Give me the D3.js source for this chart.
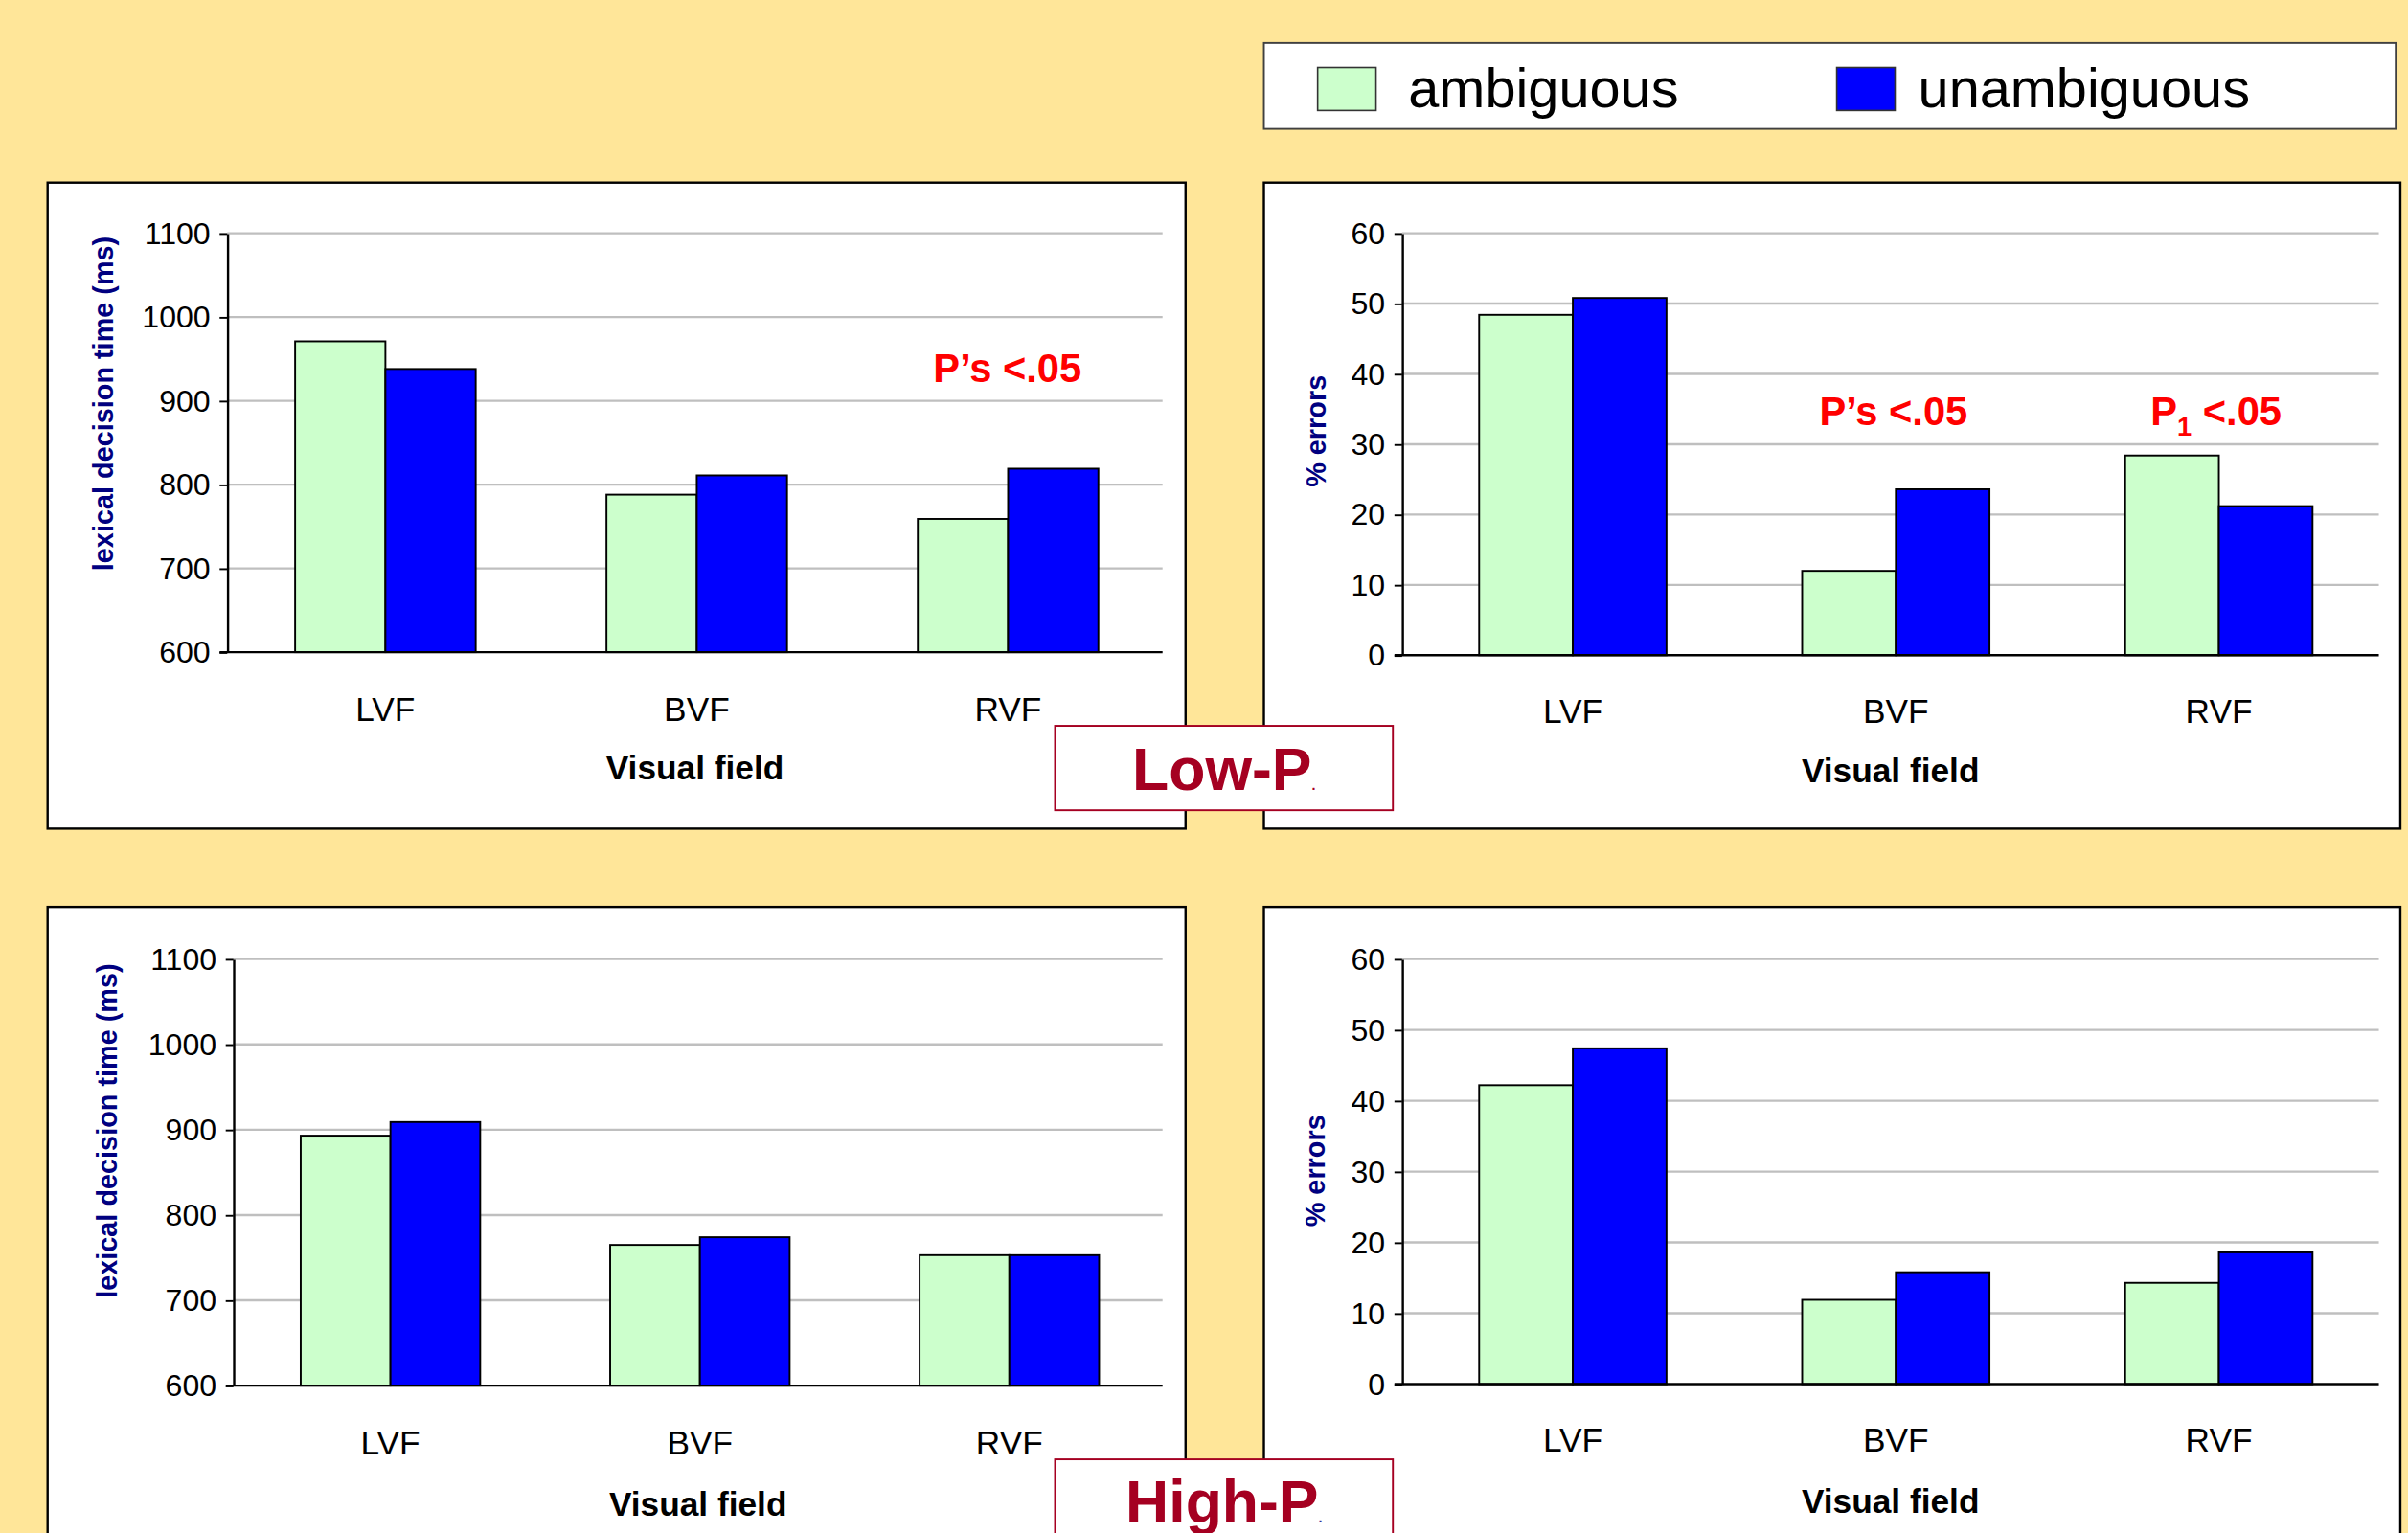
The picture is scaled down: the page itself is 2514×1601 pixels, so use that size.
<!DOCTYPE html>
<html>
<head>
<meta charset="utf-8">
<script src="https://cdn.jsdelivr.net/npm/d3@7"></script>
<style>
  html, body { margin: 0; padding: 0; background: #FFE699; overflow: hidden; }
  svg { display: block; font-family: 'Liberation Sans', Arial, sans-serif; }
</style>
</head>
<body>
<script>
const fields = ['LVF', 'BVF', 'RVF']
const seriesNames = ['ambiguous', 'unambiguous']
const seriesColors = ['#CCFFCC', '#0000FF']
const rtTicks = [600, 700, 800, 900, 1000, 1100]
const errTicks = [0, 10, 20, 30, 40, 50, 60]

const lowRtAmbiguous = [971, 788, 759]
const lowRtUnambiguous = [938, 811, 819]
const lowErrAmbiguous = [48.4, 12.0, 28.4]
const lowErrUnambiguous = [50.8, 23.6, 21.2]
const highRtAmbiguous = [893, 765, 753]
const highRtUnambiguous = [909, 774, 753]
const highErrAmbiguous = [42.2, 11.9, 14.3]
const highErrUnambiguous = [47.4, 15.8, 18.6]

const W = 1568
const H = 999

const svg = d3
  .select('body')
  .append('svg')
  .attr('width', 2514)
  .attr('height', 1601)
  .attr('viewBox', `0 0 ${W} ${H}`)
  .attr('preserveAspectRatio', 'none')

svg.append('rect').attr('width', W).attr('height', H).attr('fill', '#FFE699')

// legend
const legend = svg.append('g')
legend
  .append('rect')
  .attr('x', 823)
  .attr('y', 28)
  .attr('width', 737)
  .attr('height', 56)
  .attr('fill', '#fff')
  .attr('stroke', '#404040')
  .attr('stroke-width', 1.2)

const legendX = [858, 1196]
const legendTextX = [917, 1249]
seriesNames.forEach((name, i) => {
  legend
    .append('rect')
    .attr('x', legendX[i])
    .attr('y', 44)
    .attr('width', 38)
    .attr('height', 28)
    .attr('fill', seriesColors[i])
    .attr('stroke', '#333')
    .attr('stroke-width', 1)
  legend
    .append('text')
    .attr('x', legendTextX[i])
    .attr('y', 70)
    .attr('font-size', 36)
    .text(name)
})

const buildPanel = ({ box, axisX, gridRight, band, yRange, ticks, yTitle, titleX, titleY, catY, fieldY, amb, unamb, notes }) => {
  const g = svg.append('g')

  g.append('rect')
    .attr('x', box[0])
    .attr('y', box[1])
    .attr('width', box[2])
    .attr('height', box[3])
    .attr('fill', '#fff')
    .attr('stroke', '#000')
    .attr('stroke-width', 1.5)

  const y = d3.scaleLinear().domain([ticks[0], ticks[ticks.length - 1]]).range(yRange)
  const x = d3.scaleBand().domain(fields).range(band).paddingInner(0.42).paddingOuter(0.21)
  const xs = d3.scaleBand().domain(seriesNames).range([0, x.bandwidth()])

  // gridlines
  g.selectAll('line.grid')
    .data(ticks.slice(1))
    .join('line')
    .attr('class', 'grid')
    .attr('x1', axisX)
    .attr('x2', gridRight)
    .attr('y1', (d) => y(d))
    .attr('y2', (d) => y(d))
    .attr('stroke', '#BFBFBF')
    .attr('stroke-width', 1.5)

  // bars
  const rows = fields.map((f, i) => ({ field: f, values: [amb[i], unamb[i]] }))
  g.selectAll('g.cat')
    .data(rows)
    .join('g')
    .attr('class', 'cat')
    .attr('transform', (d) => `translate(${x(d.field)},0)`)
    .selectAll('rect')
    .data((d) => d.values.map((v, i) => ({ s: seriesNames[i], v, c: seriesColors[i] })))
    .join('rect')
    .attr('x', (d) => xs(d.s))
    .attr('y', (d) => y(d.v))
    .attr('width', xs.bandwidth())
    .attr('height', (d) => y(ticks[0]) - y(d.v))
    .attr('fill', (d) => d.c)
    .attr('stroke', '#000')
    .attr('stroke-width', 1.2)

  // y axis
  const yAxis = g
    .append('g')
    .attr('transform', `translate(${axisX},0)`)
    .call(
      d3.axisLeft(y).tickValues(ticks).tickFormat(d3.format('d')).tickSize(5).tickSizeOuter(0).tickPadding(6)
    )
  yAxis.select('.domain').attr('stroke', '#000').attr('stroke-width', 1.5)
  yAxis.selectAll('.tick line').attr('stroke', '#000').attr('stroke-width', 1.2)
  yAxis
    .selectAll('.tick text')
    .attr('font-size', 20)
    .attr('font-family', "'Liberation Sans', Arial, sans-serif")
    .attr('fill', '#000')

  // x baseline
  g.append('line')
    .attr('x1', axisX - 5)
    .attr('x2', gridRight)
    .attr('y1', y(ticks[0]))
    .attr('y2', y(ticks[0]))
    .attr('stroke', '#000')
    .attr('stroke-width', 1.5)

  g.selectAll('text.cat')
    .data(fields)
    .join('text')
    .attr('class', 'cat')
    .attr('x', (d) => x(d) + x.bandwidth() / 2)
    .attr('y', catY)
    .attr('text-anchor', 'middle')
    .attr('font-size', 22)
    .text((d) => d)

  g.append('text')
    .attr('x', (axisX + gridRight) / 2)
    .attr('y', fieldY)
    .attr('text-anchor', 'middle')
    .attr('font-size', 22)
    .attr('font-weight', 'bold')
    .text('Visual field')

  g.append('text')
    .attr('transform', `translate(${titleX},${titleY}) rotate(-90)`)
    .attr('dy', '0.35em')
    .attr('text-anchor', 'middle')
    .attr('font-size', 18)
    .attr('font-weight', 'bold')
    .attr('fill', '#000080')
    .text(yTitle)

  notes.forEach((n) => {
    const t = g
      .append('text')
      .attr('x', n.x)
      .attr('y', n.y)
      .attr('text-anchor', 'middle')
      .attr('font-size', 26)
      .attr('font-weight', 'bold')
      .attr('fill', '#FF0000')
    if (n.sub) {
      t.append('tspan').text('P')
      t.append('tspan').attr('font-size', 17).attr('dy', 7).text(n.sub)
      t.append('tspan').attr('dy', -7).text(' <.05')
    } else {
      t.text(n.text)
    }
  })
}

buildPanel({
  box: [31, 119, 741, 421],
  axisX: 148,
  gridRight: 757,
  band: [149.6, 757.8],
  yRange: [425, 152],
  ticks: rtTicks,
  yTitle: 'lexical decision time (ms)',
  titleX: 67,
  titleY: 263,
  catY: 470,
  fieldY: 508,
  amb: lowRtAmbiguous,
  unamb: lowRtUnambiguous,
  notes: [{ x: 656, y: 249, text: 'P’s <.05' }],
})

buildPanel({
  box: [823, 119, 740, 421],
  axisX: 913,
  gridRight: 1549,
  band: [919, 1550],
  yRange: [427, 152],
  ticks: errTicks,
  yTitle: '% errors',
  titleX: 857,
  titleY: 281,
  catY: 471,
  fieldY: 510,
  amb: lowErrAmbiguous,
  unamb: lowErrUnambiguous,
  notes: [
    { x: 1233, y: 277, text: 'P’s <.05' },
    { x: 1443, y: 277, sub: '1' },
  ],
})

buildPanel({
  box: [31, 591, 741, 430],
  axisX: 152,
  gridRight: 757,
  band: [153.5, 758],
  yRange: [903, 625],
  ticks: rtTicks,
  yTitle: 'lexical decision time (ms)',
  titleX: 70,
  titleY: 737,
  catY: 948,
  fieldY: 988,
  amb: highRtAmbiguous,
  unamb: highRtUnambiguous,
  notes: [],
})

buildPanel({
  box: [823, 591, 740, 430],
  axisX: 913,
  gridRight: 1549,
  band: [919, 1550],
  yRange: [902, 625],
  ticks: errTicks,
  yTitle: '% errors',
  titleX: 856,
  titleY: 763,
  catY: 946,
  fieldY: 986,
  amb: highErrAmbiguous,
  unamb: highErrUnambiguous,
  notes: [],
})

// condition labels
const labels = [
  { text: 'Low-P', y: 473, base: 515, dot: '#A50021' },
  { text: 'High-P', y: 951, base: 992, dot: '#333399' },
]
labels.forEach((l) => {
  svg
    .append('rect')
    .attr('x', 687)
    .attr('y', l.y)
    .attr('width', 220)
    .attr('height', 55)
    .attr('fill', '#fff')
    .attr('stroke', '#A50021')
    .attr('stroke-width', 1.2)
  const t = svg
    .append('text')
    .attr('x', 797)
    .attr('y', l.base)
    .attr('text-anchor', 'middle')
    .attr('font-size', 39)
    .attr('font-weight', 'bold')
    .attr('fill', '#A50021')
  t.append('tspan').text(l.text)
  t.append('tspan').attr('font-size', 9).attr('fill', l.dot).text('.')
})
</script>
</body>
</html>
